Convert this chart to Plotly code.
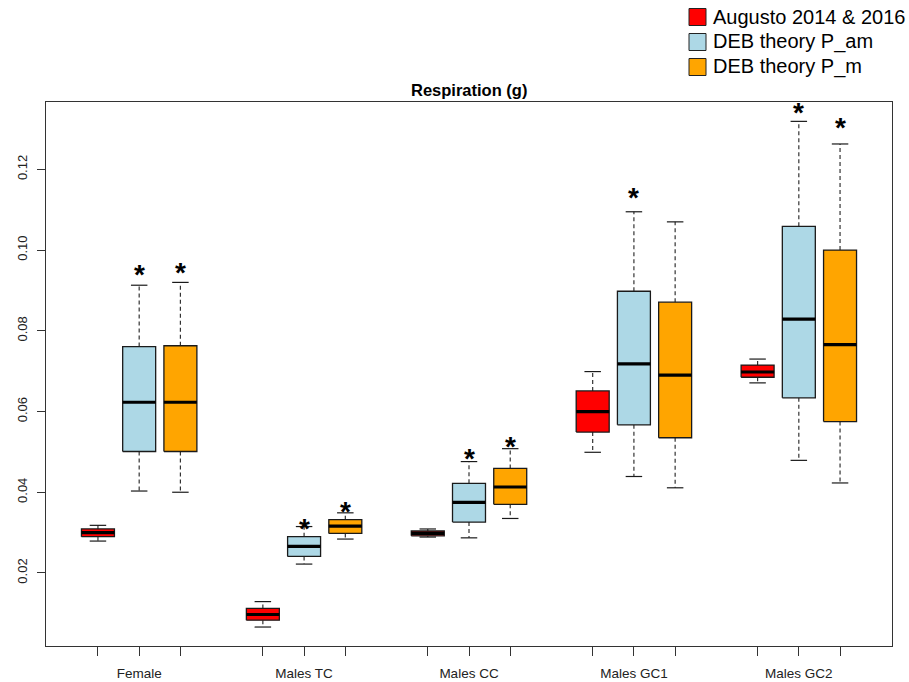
import plotly.graph_objects as go

groups = ["Female", "Males TC", "Males CC", "Males GC1", "Males GC2"]
series_names = ["Augusto 2014 & 2016", "DEB theory P_am", "DEB theory P_m"]
series_colors = ["#FF0000", "#ADD8E6", "#FFA500"]

# Augusto 2014 & 2016
red_low = [0.0279, 0.0066, 0.0289, 0.0499, 0.0671]
red_q1 = [0.0290, 0.0083, 0.0292, 0.0549, 0.0685]
red_med = [0.0300, 0.0097, 0.0298, 0.0600, 0.0698]
red_q3 = [0.0309, 0.0112, 0.0304, 0.0651, 0.0715]
red_high = [0.0318, 0.0129, 0.0309, 0.0699, 0.0730]

# DEB theory P_am
blue_low = [0.0403, 0.0222, 0.0287, 0.0439, 0.0479]
blue_q1 = [0.0501, 0.0241, 0.0326, 0.0567, 0.0634]
blue_med = [0.0623, 0.0266, 0.0375, 0.0718, 0.0829]
blue_q3 = [0.0761, 0.0290, 0.0422, 0.0898, 0.1059]
blue_high = [0.0913, 0.0315, 0.0476, 0.1095, 0.1319]

# DEB theory P_m
orange_low = [0.0400, 0.0284, 0.0335, 0.0411, 0.0423]
orange_q1 = [0.0501, 0.0298, 0.0370, 0.0535, 0.0575]
orange_med = [0.0623, 0.0316, 0.0413, 0.0690, 0.0766]
orange_q3 = [0.0763, 0.0332, 0.0459, 0.0871, 0.1000]
orange_high = [0.0920, 0.0349, 0.0508, 0.1070, 0.1263]

# significance stars (y position), None = no star
blue_star = [0.0954, 0.0324, 0.0498, 0.1146, 0.1356]
orange_star = [0.0959, 0.0366, 0.0527, None, 0.1319]
red_star = [None, None, None, None, None]

y_ticks = [0.02, 0.04, 0.06, 0.08, 0.10, 0.12]
y_tick_labels = ["0.02", "0.04", "0.06", "0.08", "0.10", "0.12"]

stats = [
    (red_low, red_q1, red_med, red_q3, red_high, red_star),
    (blue_low, blue_q1, blue_med, blue_q3, blue_high, blue_star),
    (orange_low, orange_q1, orange_med, orange_q3, orange_high, orange_star),
]

BOXW = 0.8
CAPW = 0.4
EDGE = "#1a1a1a"
FONT = "Liberation Sans, Arial"
W, H = 909, 682
ML, MR, MT, MB = 46, 17, 102, 36
PW, PH = W - ML - MR, H - MT - MB


def px_x(p):
    return (p - ML) / PW


def px_y(p):
    return (H - MB - p) / PH


fig = go.Figure()

tickvals, ticktext = [], []
for s, (lo, q1, md, q3, hi, st) in enumerate(stats):
    for g in range(len(groups)):
        pos = 4 * g + s + 1
        tickvals.append(pos)
        ticktext.append(groups[g] if s == 1 else "")
        h = BOXW / 2
        c = CAPW / 2
        # whiskers (dashed)
        fig.add_trace(go.Scatter(
            x=[pos, pos, None, pos, pos], y=[q3[g], hi[g], None, q1[g], lo[g]],
            mode="lines", line=dict(color="#333333", width=1.2, dash="4px,3px"),
            showlegend=False, hoverinfo="skip"))
        # caps
        fig.add_trace(go.Scatter(
            x=[pos - c, pos + c, None, pos - c, pos + c], y=[hi[g], hi[g], None, lo[g], lo[g]],
            mode="lines", line=dict(color=EDGE, width=1.2),
            showlegend=False, hoverinfo="skip"))
        # box
        fig.add_trace(go.Scatter(
            x=[pos - h, pos + h, pos + h, pos - h, pos - h],
            y=[q1[g], q1[g], q3[g], q3[g], q1[g]],
            mode="lines", fill="toself", fillcolor=series_colors[s],
            line=dict(color=EDGE, width=1.3),
            showlegend=False, hoverinfo="skip"))
        # median
        fig.add_trace(go.Scatter(
            x=[pos - h, pos + h], y=[md[g], md[g]],
            mode="lines", line=dict(color="black", width=3.2),
            showlegend=False, hoverinfo="skip"))
        if st[g] is not None:
            fig.add_annotation(x=pos, y=st[g], xref="x", yref="y", text="<b>*</b>",
                               showarrow=False, yshift=-6, xanchor="center", yanchor="middle",
                               font=dict(family=FONT, size=28, color="black"))

# manual legend (top right, outside the plot)
leg_rows = [17, 42, 67]
for name, col, ry in zip(series_names, series_colors, leg_rows):
    fig.add_shape(type="rect", xref="paper", yref="paper",
                  x0=px_x(689), x1=px_x(706), y0=px_y(ry + 8.5), y1=px_y(ry - 8.5),
                  fillcolor=col, line=dict(color="#222", width=1))
    fig.add_annotation(text=name, xref="paper", yref="paper", x=px_x(711), y=px_y(ry),
                       xanchor="left", yanchor="middle", showarrow=False,
                       font=dict(family=FONT, size=20, color="black"))

fig.add_annotation(text="<b>Respiration (g)</b>", xref="paper", yref="paper",
                   x=0.5, y=px_y(90), xanchor="center", yanchor="middle", showarrow=False,
                   font=dict(family=FONT, size=16.5, color="black"))

fig.update_layout(
    width=W, height=H,
    margin=dict(l=ML, r=MR, t=MT, b=MB, autoexpand=False),
    paper_bgcolor="white", plot_bgcolor="white",
    font=dict(family=FONT, color="#222"),
    showlegend=False,
)
fig.update_xaxes(range=[-0.26, 20.26], tickmode="array", tickvals=tickvals, ticktext=ticktext,
                 ticks="outside", ticklen=9, tickcolor="#333", showgrid=False, zeroline=False,
                 showline=True, linecolor="#333", linewidth=1.2, mirror=True,
                 tickfont=dict(size=13.5, color="#222"), ticklabelstandoff=6)
fig.update_yaxes(range=[0.0019, 0.1367], tickmode="array", tickvals=y_ticks, ticktext=y_tick_labels,
                 ticks="outside", ticklen=8, tickcolor="#333", showgrid=False, zeroline=False,
                 showline=True, linecolor="#333", linewidth=1.2, mirror=True,
                 tickangle=-90, tickfont=dict(size=13, color="#222"), ticklabelstandoff=5)

fig.write_html("out.html")
